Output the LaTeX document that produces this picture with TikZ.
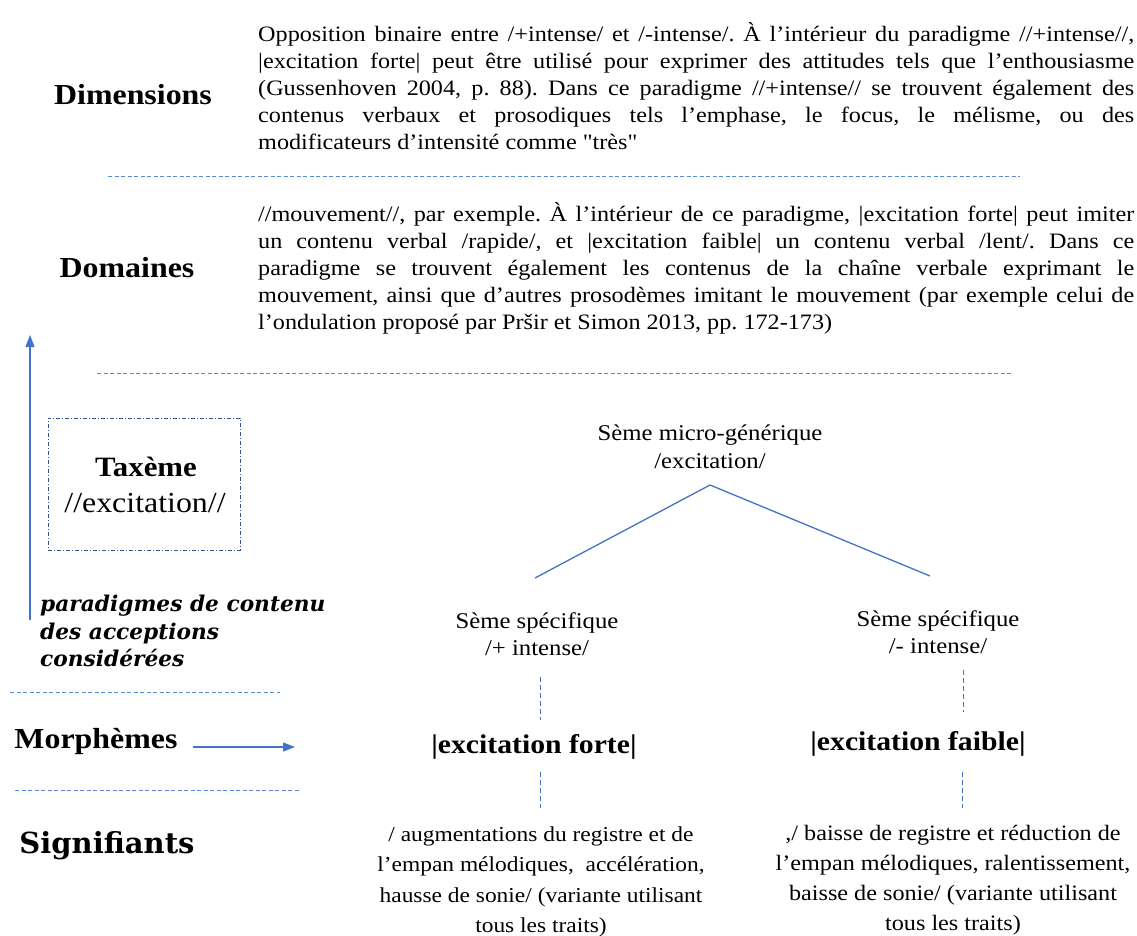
\documentclass[tikz,border=0pt]{standalone}
\usepackage{fontspec}
\setmainfont[FakeStretch=1.1]{Liberation Serif}
\newfontfamily\nolig[FakeStretch=1.1,Ligatures=TeXOff]{Liberation Serif}
\newfontfamily\dvs{DejaVu Serif}
\usetikzlibrary{arrows.meta}
\definecolor{lineblue}{HTML}{4472C4}
\definecolor{dashblue}{HTML}{5B8BD6}
\definecolor{boxblue}{HTML}{2F5597}
\newcommand{\jline}[1]{\makebox[876pt][s]{#1}\\}
\newcommand{\lastline}[1]{\makebox[876pt][l]{#1}}
\newcommand{\sq}{{\nolig"}}
\frenchspacing
\begin{document}
\begin{tikzpicture}[x=1pt,y=-1pt,
  lab/.style={font=\fontsize{29}{33}\selectfont\bfseries, inner sep=0pt},
  body/.style={font=\fontsize{22}{27}\selectfont, align=left, inner sep=0pt, anchor=north west},
  seme/.style={font=\fontsize{22.5}{27.5}\selectfont, align=center, inner sep=0pt},
  morph/.style={font=\fontsize{27}{30}\selectfont\bfseries, inner sep=0pt},
  sep/.style={dashblue, line width=1pt, dash pattern=on 4pt off 2.5pt},
  vsep/.style={lineblue, line width=1pt, dash pattern=on 5pt off 3pt},
  tree/.style={lineblue, line width=1.3pt},
  arr/.style={lineblue, line width=1.3pt, -{Triangle[length=12pt,width=9pt]}}
]
\useasboundingbox (0,0) rectangle (1137,936);

% Labels
\node[lab] (dim) at (133,95) {Dimensions};
\node[lab] (dom) at (127,268) {Domaines};
\node[lab] (mor) at (96,742) {Morphèmes};
\node[font=\dvs\fontsize{29}{32}\selectfont\bfseries, inner sep=0pt] (sig) at (107,846) {Signifiants};

% Dimension text
\node[body] (dimtext) at (258,22) {%
\jline{Opposition binaire entre /+intense/ et /-intense/. À l’intérieur du paradigme //+intense//,}
\jline{|excitation forte| peut être utilisé pour exprimer des attitudes tels que l’enthousiasme}
\jline{(Gussenhoven 2004, p. 88). Dans ce paradigme //+intense// se trouvent également des}
\jline{contenus verbaux et prosodiques tels l’emphase, le focus, le mélisme, ou des}
\lastline{modificateurs d’intensité comme \sq très\sq}};

% Domaines text
\node[body] (domtext) at (258,202) {%
\jline{//mouvement//, par exemple. À l’intérieur de ce paradigme, |excitation forte| peut imiter}
\jline{un contenu verbal /rapide/, et |excitation faible| un contenu verbal /lent/. Dans ce}
\jline{paradigme se trouvent également les contenus de la chaîne verbale exprimant le}
\jline{mouvement, ainsi que d’autres prosodèmes imitant le mouvement (par exemple celui de}
\lastline{l’ondulation proposé par Pršir et Simon 2013, pp. 172-173)}};

% separators
\coordinate (s1a) at (108,177); \coordinate (s1b) at (1020,177);
\coordinate (s2a) at (97,373);  \coordinate (s2b) at (1012,373);
\coordinate (s3a) at (10,692);  \coordinate (s3b) at (280,692);
\coordinate (s4a) at (15,790);  \coordinate (s4b) at (300,790);
\draw[sep] (s1a) -- (s1b);
\draw[sep] (s2a) -- (s2b);
\draw[sep] (s3a) -- (s3b);
\draw[sep] (s4a) -- (s4b);

% vertical arrow
\coordinate (va) at (30,620); \coordinate (vb) at (30,335);
\draw[arr] (va) -- (vb);

% Taxeme box
\node[draw=boxblue, line width=1pt, dash pattern=on 4pt off 2pt on 1pt off 2pt,
      minimum width=192pt, minimum height=132pt, inner sep=0pt] (taxbox) at (144,484) {};
\node[font=\fontsize{28}{30}\selectfont\bfseries, inner sep=0pt] (tax) at (146,467) {Taxème};
\node[font=\fontsize{29}{30}\selectfont, inner sep=0pt] (taxex) at (145,503) {//excitation//};

% paradigmes
\node[font=\dvs\fontsize{21.7}{27.5}\selectfont\bfseries\itshape, align=left, inner sep=0pt, anchor=north west] (para) at (40,595)
  {paradigmes de contenu\\des acceptions\\considérées};

% Tree
\node[seme] (micro) at (710,447) {Sème micro-générique\\/excitation/};
\coordinate (apex) at (710,485);
\coordinate (lfoot) at (535,578);
\coordinate (rfoot) at (930,576);
\draw[tree] (lfoot) -- (apex) -- (rfoot);

\node[seme] (spl) at (537,634) {Sème spécifique\\/+ intense/};
\node[seme] (spr) at (938,632) {Sème spécifique\\/- intense/};

\node[morph] (forte) at (534,747) {|excitation forte|};
\node[morph] (faible) at (918,744) {|excitation faible|};

\node[font=\fontsize{21.3}{30.5}\selectfont, align=center, inner sep=0pt] (sigl) at (541,882) {/ augmentations du registre et de\\l’empan mélodiques,\ \ accélération,\\hausse de sonie/ (variante utilisant\\tous les traits)};
\node[font=\fontsize{22}{30}\selectfont, align=center, inner sep=0pt] (sigr) at (953,880) {,/ baisse de registre et réduction de\\l’empan mélodiques, ralentissement,\\baisse de sonie/ (variante utilisant\\tous les traits)};

% dashed verticals
\coordinate (v1a) at (540,677); \coordinate (v1b) at (540,720);
\coordinate (v2a) at (963,670); \coordinate (v2b) at (963,712);
\coordinate (v3a) at (540,772); \coordinate (v3b) at (540,808);
\coordinate (v4a) at (962,772); \coordinate (v4b) at (962,808);
\draw[vsep] (v1a) -- (v1b);
\draw[vsep] (v2a) -- (v2b);
\draw[vsep] (v3a) -- (v3b);
\draw[vsep] (v4a) -- (v4b);

% Morphemes arrow
\coordinate (ma) at (193,747); \coordinate (mb) at (295,747);
\draw[arr] (ma) -- (mb);
\end{tikzpicture}
\end{document}
